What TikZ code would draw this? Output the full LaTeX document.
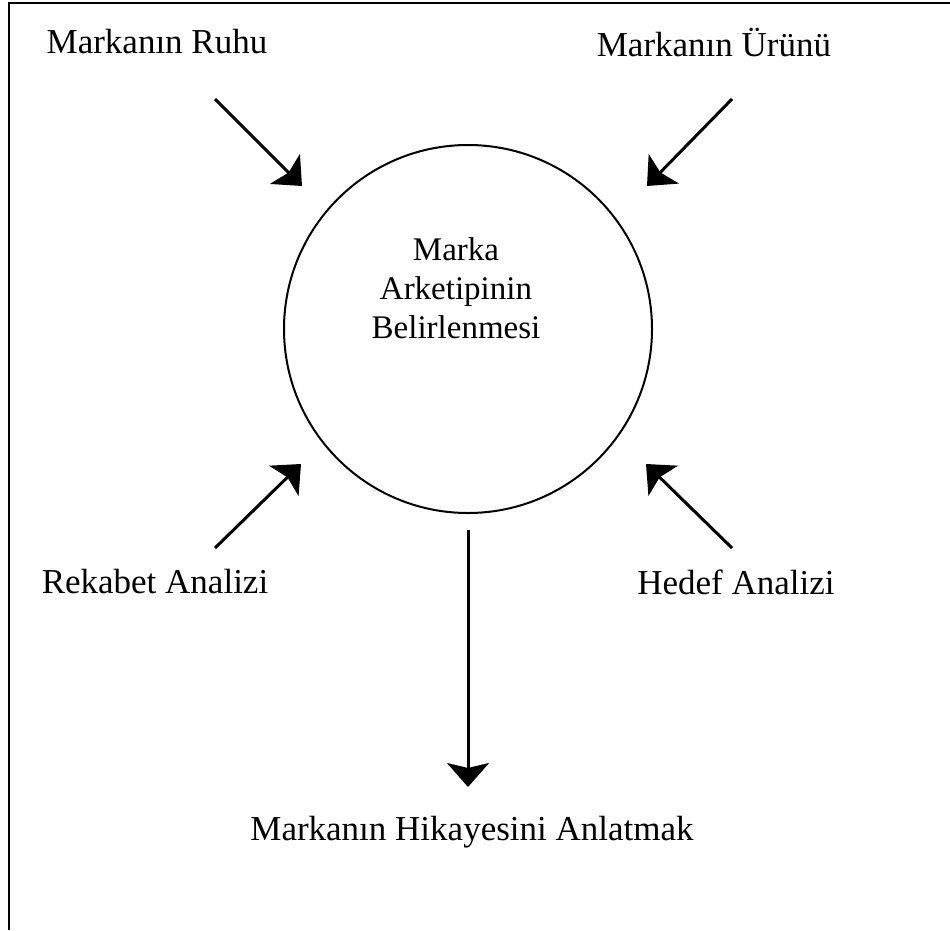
\documentclass[tikz,border=0pt]{standalone}
\usepackage{fontspec}
\setmainfont{Liberation Serif}
\usetikzlibrary{arrows.meta}
\begin{document}
\begin{tikzpicture}[x=1pt,y=-1pt,
  label/.style={inner sep=0pt, font=\fontsize{35}{41}\selectfont},
  hub/.style={circle, draw, line width=2pt, minimum size=368pt, inner sep=0pt},
  flow/.style={line width=3pt, -{Stealth[length=24pt,width=42pt,inset=5pt]}}]
  \useasboundingbox (0,0) rectangle (950,930);
  % open frame: top and left edges only
  \draw[line width=2pt] (9,930) -- (9,3) -- (950,3);

  % central circle and its caption
  \node[hub] (hub) at (468,329) {};
  \node[inner sep=0pt, align=center, font=\fontsize{33}{39}\selectfont] (title) at (456,288)
    {Marka\\Arketipinin\\Belirlenmesi};

  % surrounding labels
  \node[label] (ruh) at (157,42) {Markanın Ruhu};
  \node[label] (urun) at (714,42) {Markanın Ürünü};
  \node[label] (rek) at (155,582) {Rekabet Analizi};
  \node[label] (hed) at (736,582) {Hedef Analizi};
  \node[label] (hik) at (472,832) {Markanın Hikayesini Anlatmak};

  % arrow end points
  \coordinate (a1) at (215,99);   \coordinate (b1) at (302,186);
  \coordinate (a2) at (732,99);   \coordinate (b2) at (647,186);
  \coordinate (a3) at (215,548);  \coordinate (b3) at (301,464);
  \coordinate (a4) at (732,548);  \coordinate (b4) at (646,464);
  \coordinate (a5) at (468,530);  \coordinate (b5) at (468,787);

  \draw[flow] (a1) -- (b1);
  \draw[flow] (a2) -- (b2);
  \draw[flow] (a3) -- (b3);
  \draw[flow] (a4) -- (b4);
  \draw[flow] (a5) -- (b5);
\end{tikzpicture}
\end{document}
